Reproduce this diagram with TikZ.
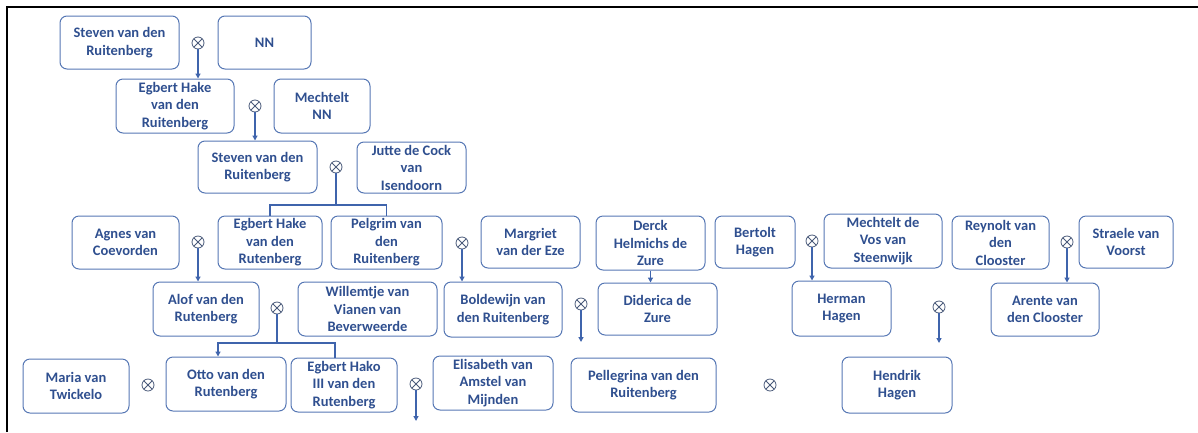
\documentclass[tikz,border=0pt]{standalone}
\usepackage{fontspec}
\setmainfont{Carlito}
\usetikzlibrary{arrows.meta}
\definecolor{boxline}{HTML}{5677B4}
\definecolor{nametext}{HTML}{2F4F8F}
\definecolor{linkblue}{HTML}{3F64AC}
\definecolor{ringgray}{HTML}{4A5A7A}

\begin{document}
\begin{tikzpicture}[x=1pt, y=-1pt,
	box/.style 2 args = {draw=boxline, line width=1pt, rounded corners=7pt, align=center,
	  minimum width=#1pt, minimum height=#2pt, inner sep=1pt, text=nametext,
	  font=\fontsize{14.5}{17.5}\selectfont\bfseries},
	ring/.style = {circle, draw=ringgray, line width=0.8pt, minimum size=12pt, inner sep=0pt,
	  path picture={\draw[ringgray, line width=0.8pt]
	    (path picture bounding box.north west) -- (path picture bounding box.south east)
	    (path picture bounding box.north east) -- (path picture bounding box.south west);}},
	link/.style = {draw=linkblue, line width=1.6pt},
	child/.style = {link, -{Triangle[length=5pt, width=5pt]}}
     ]
		\useasboundingbox (0,0) rectangle (1198,432);
		\draw[line width=1.5pt] (7,432) -- (7,7) -- (1198,7);
%
		\node (steven1)    [box={119}{53}] at (119.5,42.5) {Steven van den\\Ruitenberg};
		\node (nn)         [box={93}{53}]  at (264.5,42.5) {NN};
		\node (egbert1)    [box={118}{54}] at (175,106)    {Egbert Hake\\van den\\Ruitenberg};
		\node (mechtelt)   [box={96}{54}]  at (322,106)    {Mechtelt\\NN};
		\node (steven2)    [box={119}{52}] at (257.5,167)  {Steven van den\\Ruitenberg};
		\node (jutte)      [box={109}{51}] at (411.5,167.5){Jutte de Cock\\van\\Isendoorn};
%
		\node (agnes)      [box={107}{53}] at (125.5,242.5){Agnes van\\Coevorden};
		\node (egbert2)    [box={104}{53}] at (270,242.5)  {Egbert Hake\\van den\\Rutenberg};
		\node (pelgrim)    [box={111}{53}] at (386.5,242.5){Pelgrim van\\den\\Ruitenberg};
		\node (margriet)   [box={99}{52}]  at (530.5,242)  {Margriet\\van der Eze};
		\node (derck)      [box={109}{54}] at (650.5,243)  {Derck\\Helmichs de\\Zure};
		\node (bertolt)    [box={80}{52}]  at (755,242)    {Bertolt\\Hagen};
		\node (mechtvos)   [box={118}{54}] at (883,241)    {Mechtelt de\\Vos van\\Steenwijk};
		\node (reynolt)    [box={97}{53}]  at (1000.5,242.5){Reynolt van\\den\\Clooster};
		\node (straele)    [box={94}{52}]  at (1126,242)   {Straele van\\Voorst};
%
		\node (alof)       [box={106}{54}] at (206,309)    {Alof van den\\Rutenberg};
		\node (willemtje)  [box={139}{54}] at (367.5,309)  {Willemtje van\\Vianen van\\Beverweerde};
		\node (boldewijn)  [box={118}{55}] at (503,309.5)  {Boldewijn van\\den Ruitenberg};
		\node (diderica)   [box={119}{52}] at (657.5,309)  {Diderica de\\Zure};
		\node (herman)     [box={99}{55}]  at (841.5,308.5){Herman\\Hagen};
		\node (arente)     [box={108}{53}] at (1045,309.5) {Arente van\\den Clooster};
%
		\node (maria)      [box={106}{54}] at (76,386)     {Maria van\\Twickelo};
		\node (otto)       [box={120}{54}] at (226,384)    {Otto van den\\Rutenberg};
		\node (hako)       [box={106}{54}] at (344,385)    {Egbert Hako\\III van den\\Rutenberg};
		\node (elisabeth)  [box={120}{54}] at (493,383)    {Elisabeth van\\Amstel van\\Mijnden};
		\node (pellegrina) [box={145}{54}] at (643.5,385)  {Pellegrina van den\\Ruitenberg};
		\node (hendrik)    [box={110}{56}] at (897,385)    {Hendrik\\Hagen};
%
		\node (m1)  [ring] at (198,43)  {};
		\node (m2)  [ring] at (255,106) {};
		\node (m3)  [ring] at (336,167) {};
		\node (m4)  [ring] at (198,242) {};
		\node (m5)  [ring] at (462,243) {};
		\node (m6)  [ring] at (812,241) {};
		\node (m7)  [ring] at (1067,242){};
		\node (m8)  [ring] at (277,308) {};
		\node (m9)  [ring] at (581,304) {};
		\node (m10) [ring] at (939,307) {};
		\node (m11) [ring] at (148,385) {};
		\node (m12) [ring] at (416,384) {};
		\node (m13) [ring] at (770,385) {};
%
		\coordinate (f3)  at (336,205);
		\coordinate (f8)  at (277,343);
		\coordinate (e9)  at (581,342);
		\coordinate (e10) at (939,343);
		\coordinate (e12) at (416,421);
%
		\draw[child] (m1.south) -- (m1.south |- egbert1.north);
		\draw[child] (m2.south) -- (m2.south |- steven2.north);
		\draw[link]  (m3.south) -- (f3);
		\draw[link]  (f3) -| (egbert2.north);
		\draw[link]  (f3) -| (pelgrim.north);
		\draw[child] (m4.south) -- (m4.south |- alof.north);
		\draw[child] (m5.south) -- (m5.south |- boldewijn.north);
		\draw[child] (derck.south) -- (derck.south |- diderica.north);
		\draw[child] (m6.south) -- (m6.south |- herman.north);
		\draw[child] (m7.south) -- (m7.south |- arente.north);
		\draw[link]  (m8.south) -- (f8);
		\draw[child] (f8) -| ([xshift=-8pt] otto.north);
		\draw[link]  (f8) -| ([xshift=-9pt] hako.north);
		\draw[child] (m9.south) -- (e9);
		\draw[child] (m10.south) -- (e10);
		\draw[child] (m12.south) -- (e12);
\end{tikzpicture}
\end{document}
